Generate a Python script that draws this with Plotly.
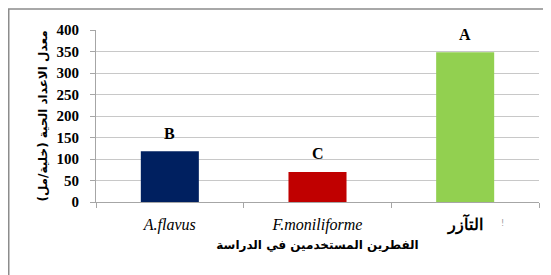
import plotly.graph_objects as go

categories = ["A.flavus", "F.moniliforme", "التآزر"]
tick_labels = ["<i>A.flavus</i>", "<i>F.moniliforme</i>", "<b>التآزر</b>"]
values = [118, 70, 348]
letters = ["B", "C", "A"]
colors = ["#002060", "#C00000", "#92D050"]
y_ticks = [0, 50, 100, 150, 200, 250, 300, 350, 400]

SERIF = "Liberation Serif"
AR_FONT = "DejaVu Sans"

# page body has an 8px offset; figure coordinates compensate for it
W, H = 543, 267

fig = go.Figure()
fig.add_trace(go.Bar(x=categories, y=values, marker=dict(color=colors, line=dict(width=0)),
                     width=0.393, showlegend=False, hoverinfo="x+y"))

for c, v, l in zip(categories, values, letters):
    fig.add_annotation(x=c, y=v, text="<b>" + l + "</b>", showarrow=False,
                       yanchor="middle", yshift=18,
                       font=dict(family=SERIF, size=16, color="#000000"))

fig.add_annotation(x=2.5, y=0, xref="x", yref="y", text="!", showarrow=False,
                   xshift=-37, yshift=-21, font=dict(family=AR_FONT, size=8, color="#999999"))

pw = 531 - 88
ph = 194 - 22
fig.add_shape(type="rect", xref="paper", yref="paper",
              x0=(0.75 - 88) / pw, x1=(W + 20 - 88) / pw,
              y0=-1.0, y1=(194 - 1) / ph,
              line=dict(color="#8c8c8c", width=1.5), fillcolor="rgba(0,0,0,0)", layer="above")

fig.update_layout(
    width=W, height=H,
    margin=dict(l=88, r=12, t=22, b=73),
    paper_bgcolor="white", plot_bgcolor="white",
    bargap=0.607,
    xaxis=dict(
        tickmode="array", tickvals=categories, ticktext=tick_labels,
        tickson="boundaries", ticks="outside", ticklen=5, tickcolor="#a6a6a6",
        showline=True, linecolor="#a6a6a6", linewidth=1,
        ticklabelstandoff=8,
        tickfont=dict(family=SERIF, size=16, color="#000000"),
        title=dict(text="<b>الفطرين المستخدمين في الدراسة</b>", standoff=6,
                   font=dict(family=AR_FONT, size=12, color="#000000")),
        showgrid=False, range=[-0.5, 2.5],
    ),
    yaxis=dict(
        range=[0, 400], tickvals=y_ticks, ticks="outside", ticklen=5, tickcolor="#a6a6a6",
        showline=True, linecolor="#a6a6a6", linewidth=1,
        ticklabelstandoff=8,
        showgrid=True, gridcolor="#c8c8c8", gridwidth=1, zeroline=False,
        tickfont=dict(family=SERIF, size=15, weight="bold", color="#000000"),
        title=dict(text="<b>معدل الاعداد الحية (خلية/مل)</b>", standoff=6,
                   font=dict(family=AR_FONT, size=12, color="#000000")),
    ),
)

fig.write_html("out.html")
